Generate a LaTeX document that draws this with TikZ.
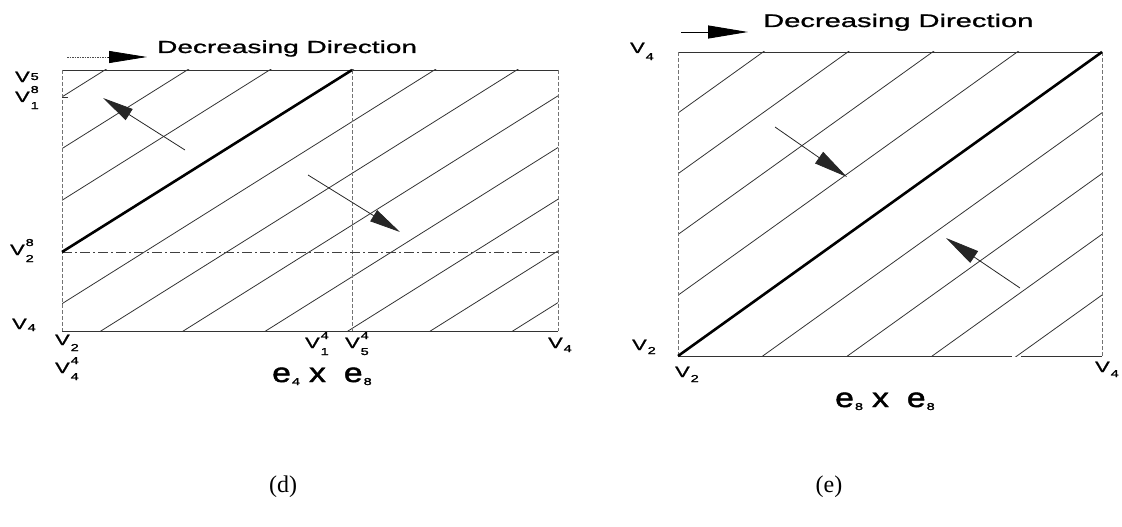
\documentclass[tikz,border=0pt]{standalone}
\usepackage{fontspec}
\usetikzlibrary{arrows.meta}
\setmainfont{Liberation Sans}
\newfontfamily\wf[FakeStretch=1.6,FakeBold=1.2]{Liberation Sans}
\newfontfamily\vf[FakeStretch=1.45,FakeBold=1.6]{Liberation Sans}
\newfontfamily\ef[FakeStretch=1.25,FakeBold=1.6]{Liberation Sans}
\newfontfamily\capfont{Liberation Serif}
\newcommand\dig[1]{{\fontsize{10}{10}\vf\selectfont #1}}
\newcommand\Vsub[2][-4pt]{{\fontsize{15}{15}\vf\selectfont V\kern1pt\raisebox{#1}{\dig{#2}}}}
\newcommand\Vss[2]{{\fontsize{15}{15}\vf\selectfont V\kern1pt\makebox[0pt][l]{\raisebox{9pt}{\dig{#1}}}\raisebox{-7pt}{\dig{#2}}}}
\newcommand\eprod[2]{{\fontsize{27}{28}\ef\selectfont e\kern1pt\raisebox{-3pt}{\fontsize{10}{10}\vf\selectfont #1}\hspace{9pt}x\hspace{18pt}e\kern1pt\raisebox{-3pt}{\fontsize{10}{10}\vf\selectfont #2}}}
\tikzset{
  hatch/.style={line width=0.8pt,color=black!80},
  heavy/.style={line width=2.6pt,color=black},
  edge/.style={line width=0.9pt,color=black!80},
  vedge/.style={line width=0.7pt,color=black!55,dash pattern=on 4pt off 2pt},
  dashdot/.style={line width=0.8pt,color=black!75,dash pattern=on 10pt off 3pt on 2pt off 3pt},
  dirarrow/.style={line width=0.8pt,color=black!85,-{Triangle[length=31pt,width=13pt]}},
  lab/.style={inner sep=0pt,anchor=base west},
  dec/.style={inner sep=0pt,anchor=base west,font=\fontsize{17.5}{18}\wf\selectfont},
  captxt/.style={font=\fontsize{24}{26}\capfont\selectfont}
}
\begin{document}
\begin{tikzpicture}[x=1pt,y=-1pt]
\useasboundingbox (0,0) rectangle (1122,527);
% ---------------- panel (d) ----------------
\begin{scope}
\clip (62,70) rectangle (558,331);
\foreach \k in {-3,...,7} {
  \draw[hatch] (62,{252+51.7*\k}) -- ++(700,{-700*0.6276});
}
\end{scope}
\draw[edge] (62,70) -- (558,70);
\draw[edge] (62,331) -- (558,331);
\draw[vedge] (62,70) -- (62,331);
\draw[vedge] (558,70) -- (558,331);
\draw[vedge] (352,70) -- (352,331);
\draw[dashdot] (62,252) -- (558,252);
\coordinate (dA) at (62,252);
\coordinate (dB) at (352,70);
\draw[heavy] (dA) -- (dB);
\draw[edge] (62,97) -- (68,97);
% direction arrows (d)
\coordinate (d1s) at (185,150); \coordinate (d1e) at (103,98);
\coordinate (d2s) at (308,175); \coordinate (d2e) at (400,232);
\draw[dirarrow] (d1s) -- (d1e);
\draw[dirarrow] (d2s) -- (d2e);
\coordinate (ddS) at (67,57); \coordinate (ddE) at (147,57);
\draw[line width=0.8pt,color=black!70,dash pattern=on 1.5pt off 1pt] (ddS) -- (110,57);
\draw[line width=0.8pt,-{Triangle[length=38pt,width=12pt]}] (108,57) -- (ddE);
\node[dec] (ddT) at (157,53) {Decreasing Direction};
% labels (d)
\node[lab] (l1) at (15,82) {\Vsub[2pt]{5}};
\node[lab] (l2) at (15,102) {\Vss{8}{1}};
\node[lab] (l3) at (10,255) {\Vss{8}{2}};
\node[lab] (l4) at (12,329) {\Vsub[-2pt]{4}};
\node[lab] (l5) at (55,345) {\Vsub[-6pt]{2}};
\node[lab] (l6) at (55,373) {\Vss{4}{4}};
\node[lab] (l7) at (305,348) {\Vss{4}{1}};
\node[lab] (l8) at (345,348) {\Vss{4}{5}};
\node[lab] (l9) at (548,348) {\Vsub[-4pt]{4}};
\node[lab] (ed) at (272,382) {\eprod{4}{8}};
\node[captxt] (capd) at (283,487) {(d)};
% ---------------- panel (e) ----------------
\begin{scope}
\clip (678,52) rectangle (1102,356);
\foreach \k in {-4,...,4} {
  \draw[hatch] (678,{356+60.75*\k}) -- ++(700,{-700*0.717});
}
\end{scope}
\draw[edge] (678,52) -- (1102,52);
\draw[edge] (678,356) -- (1012,356);
\draw[edge] (1021,356) -- (1102,356);
\draw[vedge] (678,52) -- (678,356);
\draw[vedge] (1102,52) -- (1102,356);
\coordinate (eA) at (678,356);
\coordinate (eB) at (1102,52);
\draw[heavy] (eA) -- (eB);
\coordinate (e1s) at (775,127); \coordinate (e1e) at (847,177);
\coordinate (e2s) at (1020,288); \coordinate (e2e) at (946,238);
\draw[dirarrow,-{Triangle[length=34pt,width=14pt]}] (e1s) -- (e1e);
\draw[dirarrow,-{Triangle[length=34pt,width=14pt]}] (e2s) -- (e2e);
\coordinate (edS) at (681,32); \coordinate (edE) at (748,32);
\draw[line width=0.9pt,-{Triangle[length=40pt,width=13pt]}] (edS) -- (edE);
\node[dec,font=\fontsize{18.2}{19}\wf\selectfont] (edT) at (763,27) {Decreasing Direction};
\node[lab] (m1) at (630,53) {\Vsub[-7pt]{4}};
\node[lab] (m2) at (632,350) {\Vsub[-4pt]{2}};
\node[lab] (m3) at (675,377) {\Vsub[-5pt]{2}};
\node[lab] (m4) at (1095,372) {\Vsub[-5pt]{4}};
\node[lab] (ee) at (835,407) {\eprod{8}{8}};
\node[captxt] (cape) at (829,487) {(e)};
\end{tikzpicture}
\end{document}
